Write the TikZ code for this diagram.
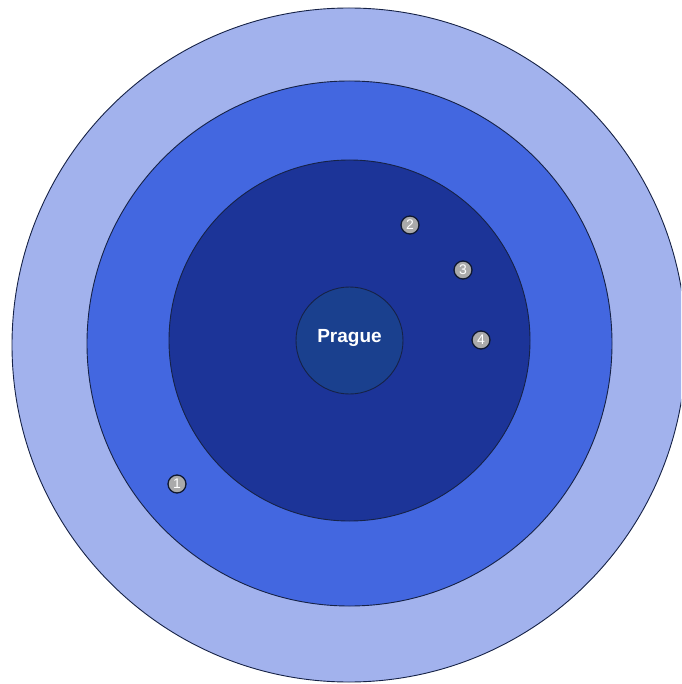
\documentclass[tikz,border=0pt]{standalone}
\usepackage{fontspec}
\setmainfont{Liberation Sans}
\definecolor{ringA}{RGB}{162,178,237}
\definecolor{ringB}{RGB}{67,103,224}
\definecolor{ringC}{RGB}{28,52,152}
\definecolor{core}{RGB}{26,64,142}
\definecolor{edge}{RGB}{22,34,70}
\definecolor{dotfill}{RGB}{170,170,170}
\begin{document}
\begin{tikzpicture}[x=1pt,y=-1pt,
  ring/.style={circle,draw=edge,line width=0.9pt,inner sep=0pt},
  marker/.style={circle,draw=edge!70!black,line width=1.3pt,fill=dotfill,minimum size=18pt,inner sep=0pt,text=white,font=\fontsize{14}{14}\selectfont}]
\useasboundingbox (0,0) rectangle (681,684);
\clip (0,0) rectangle (681,684);
\node[ring,fill=ringA,minimum size=674pt] (r1) at (349,345) {};
\node[ring,fill=ringB,minimum size=525pt] (r2) at (349.5,343.5) {};
\node[ring,fill=ringC,minimum size=361pt] (r3) at (349.5,340.5) {};
\node[ring,fill=core,minimum size=107pt,text=white,text depth=10pt,font=\bfseries\fontsize{19}{19}\selectfont] (prague) at (349.5,340.5) {Prague};
\node[marker] (m1) at (177,484) {1};
\node[marker] (m2) at (410,225) {2};
\node[marker] (m3) at (463,270) {3};
\node[marker] (m4) at (481,340) {4};
\end{tikzpicture}
\end{document}
